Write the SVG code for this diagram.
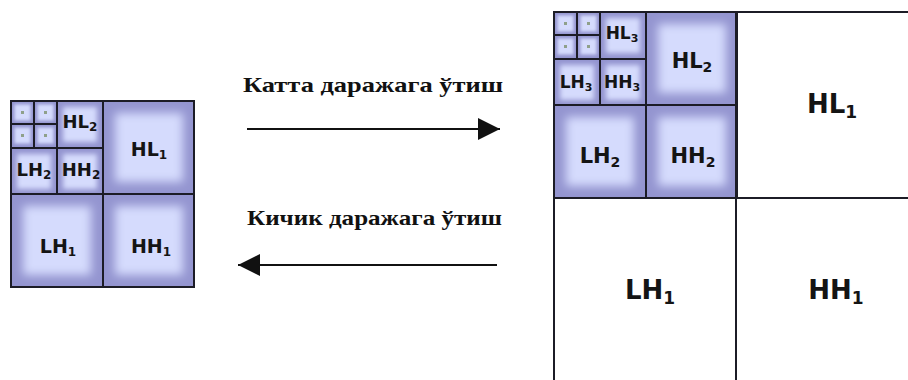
<svg xmlns="http://www.w3.org/2000/svg" xmlns:xlink="http://www.w3.org/1999/xlink" width="908" height="380" viewBox="0 0 908 380">
  <style>
    .edge { fill: #9495d0; }
    .face { fill: #d5dbfd; }
    .dot { fill: #8fa08a; }
    .grid { stroke: #1c1c26; stroke-width: 2; fill: none; }
    .lbl { font-family: "DejaVu Sans", Verdana, sans-serif; font-weight: bold; fill: #141414; text-anchor: middle; }
    .cap { font-family: "Liberation Serif", "Times New Roman", serif; font-weight: bold; font-size: 21px; fill: #111; }
    .arrow { stroke: #111; stroke-width: 2.2; fill: none; }
  </style>
  <defs>
    <filter id="softL" x="-20%" y="-20%" width="140%" height="140%"><feGaussianBlur stdDeviation="5"/></filter>
    <filter id="softM" x="-20%" y="-20%" width="140%" height="140%"><feGaussianBlur stdDeviation="2.8"/></filter>
    <filter id="softS" x="-20%" y="-20%" width="140%" height="140%"><feGaussianBlur stdDeviation="1.5"/></filter>
    <!-- bevelled sub-band tiles in three sizes -->
    <g id="tileL">
      <rect class="edge" width="92" height="93"/>
      <rect class="face" x="12" y="12" width="68" height="69" filter="url(#softL)"/>
    </g>
    <g id="tileM">
      <rect class="edge" width="46" height="47"/>
      <rect class="face" x="6" y="6" width="34" height="35" filter="url(#softM)"/>
    </g>
    <g id="tileS">
      <rect class="edge" width="23" height="23"/>
      <rect class="face" x="3.5" y="3.5" width="16" height="16" filter="url(#softS)"/>
      <rect class="dot" x="10" y="10" width="3" height="3"/>
    </g>
    <!-- full pyramid of tiles with its grid, 183 x 186 -->
    <g id="pyramid">
      <use xlink:href="#tileS" x="0" y="0"/>
      <use xlink:href="#tileS" x="23" y="0"/>
      <use xlink:href="#tileS" x="0" y="23"/>
      <use xlink:href="#tileS" x="23" y="23"/>
      <use xlink:href="#tileM" x="46" y="0"/>
      <use xlink:href="#tileM" x="0" y="47"/>
      <use xlink:href="#tileM" x="46" y="47"/>
      <use xlink:href="#tileL" x="92" y="0"/>
      <use xlink:href="#tileL" x="0" y="93"/>
      <use xlink:href="#tileL" x="92" y="93"/>
      <path class="grid" d="M0 0H183V186H0Z M92 0V186 M0 93H183 M46 0V93 M0 47H92 M23 0V47 M0 23H46"/>
    </g>
    <marker id="head" markerUnits="userSpaceOnUse" markerWidth="24" markerHeight="24" refX="22" refY="11" orient="auto">
      <path d="M0 0 L22 11 L0 22 Z" fill="#111"/>
    </marker>
  </defs>

  <rect width="908" height="380" fill="#ffffff"/>

  <!-- left: two-level decomposition -->
  <g id="small-pyramid">
    <use xlink:href="#pyramid" x="11" y="101"/>
    <g id="s-HL2"><text class="lbl" x="80" y="128" font-size="18">HL<tspan font-size="12" dy="3">2</tspan></text></g>
    <g id="s-LH2"><text class="lbl" x="34" y="176" font-size="18">LH<tspan font-size="12" dy="3">2</tspan></text></g>
    <g id="s-HH2"><text class="lbl" x="81" y="176" font-size="18">HH<tspan font-size="12" dy="3">2</tspan></text></g>
    <g id="s-HL1"><text class="lbl" x="149" y="156" font-size="19">HL<tspan font-size="12" dy="3">1</tspan></text></g>
    <g id="s-LH1"><text class="lbl" x="58" y="253" font-size="19">LH<tspan font-size="12" dy="3">1</tspan></text></g>
    <g id="s-HH1"><text class="lbl" x="151" y="253" font-size="19">HH<tspan font-size="12" dy="3">1</tspan></text></g>
  </g>

  <!-- right: three-level decomposition -->
  <g id="large-pyramid">
    <use xlink:href="#pyramid" x="554" y="12"/>
    <path class="grid" d="M554 12H910 M554 12V382 M736 12V382 M554 198H910"/>
    <g id="l-HL3"><text class="lbl" x="622" y="39" font-size="17">HL<tspan font-size="11" dy="3">3</tspan></text></g>
    <g id="l-LH3"><text class="lbl" x="576" y="88" font-size="17">LH<tspan font-size="11" dy="3">3</tspan></text></g>
    <g id="l-HH3"><text class="lbl" x="622" y="88" font-size="17">HH<tspan font-size="11" dy="3">3</tspan></text></g>
    <g id="l-HL2"><text class="lbl" x="692" y="68" font-size="21">HL<tspan font-size="14" dy="4">2</tspan></text></g>
    <g id="l-LH2"><text class="lbl" x="600" y="163" font-size="21">LH<tspan font-size="14" dy="4">2</tspan></text></g>
    <g id="l-HH2"><text class="lbl" x="693" y="163" font-size="21">HH<tspan font-size="14" dy="4">2</tspan></text></g>
    <g id="l-HL1"><text class="lbl" x="832" y="113" font-size="26">HL<tspan font-size="17" dy="5">1</tspan></text></g>
    <g id="l-LH1"><text class="lbl" x="650" y="299" font-size="26">LH<tspan font-size="17" dy="5">1</tspan></text></g>
    <g id="l-HH1"><text class="lbl" x="836" y="299" font-size="26">HH<tspan font-size="17" dy="5">1</tspan></text></g>
  </g>

  <!-- transitions between levels -->
  <g id="connectors">
    <g id="to-higher">
      <text class="cap" x="243" y="92" textLength="260" lengthAdjust="spacingAndGlyphs">Катта  даражага ўтиш</text>
      <line class="arrow" x1="247" y1="129" x2="500" y2="129" marker-end="url(#head)"/>
    </g>
    <g id="to-lower">
      <text class="cap" x="247" y="225" textLength="255" lengthAdjust="spacingAndGlyphs">Кичик  даражага ўтиш</text>
      <line class="arrow" x1="497" y1="265" x2="238" y2="265" marker-end="url(#head)"/>
    </g>
  </g>
</svg>
